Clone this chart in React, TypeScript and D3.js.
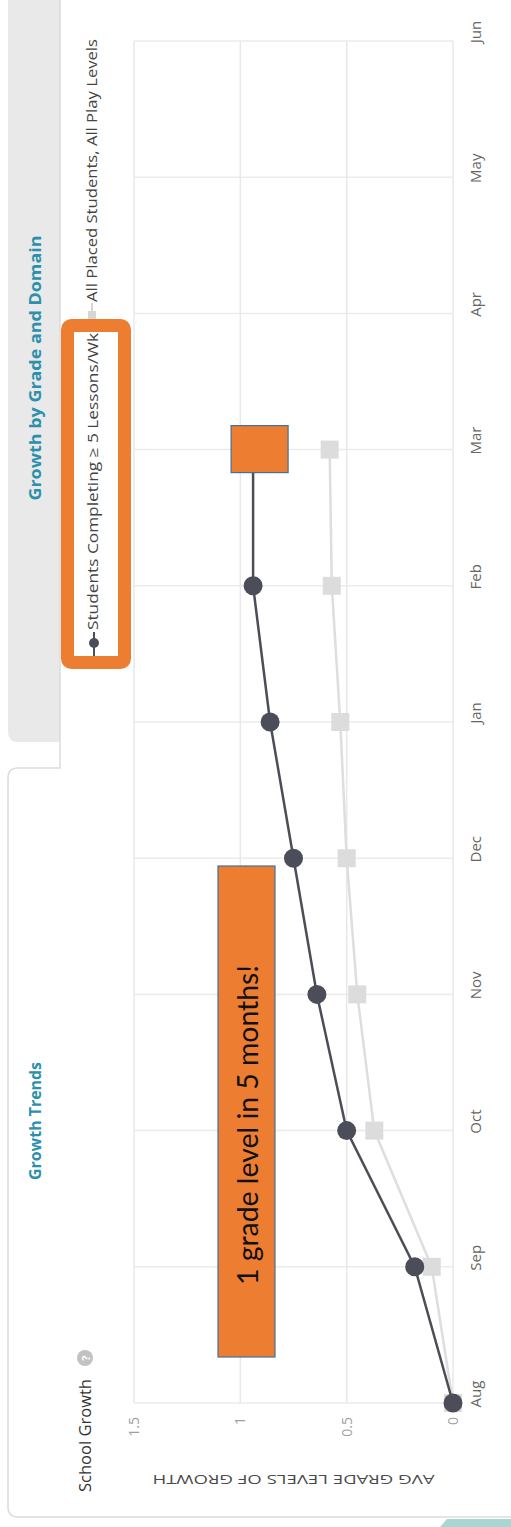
import React from 'react';
import * as d3 from 'd3';

// values (avg grade levels of growth)
const months = ['Aug', 'Sep', 'Oct', 'Nov', 'Dec', 'Jan', 'Feb', 'Mar', 'Apr', 'May', 'Jun'];
const activeStudents = [0, 0.18, 0.5, 0.64, 0.75, 0.86, 0.94, 0.94];
const allPlaced = [0, 0.1, 0.37, 0.45, 0.5, 0.53, 0.57, 0.58];
const yTicks = [0, 0.5, 1, 1.5];
const yTickLabels = ['0', '0.5', '1', '1.5'];

const activeLabel = 'Students Completing \u2265 5 Lessons/Wk';
const allLabel = 'All Placed Students, All Play Levels';

const FONT = "'Open Sans', 'Noto Sans', sans-serif";
const TEAL = '#2a90ab';
const ORANGE = '#ED7D31';

const App = () => {
  // chart drawn upright in a 1527 x 511 frame, then turned -90deg
  const x = d3.scalePoint<string>().domain(months).range([124, 1486]);
  const y = d3.scaleLinear().domain([0, 1.5]).range([453, 134]);

  const line = d3
    .line<number>()
    .x((d, i) => x(months[i]) as number)
    .y(d => y(d));

  const marX = x('Mar') as number;
  const marY = y(activeStudents[7]);

  return (
    <svg width={511} height={1527} style={{ position: 'absolute', left: 0, top: 0, background: '#fff' }}>
      <g transform="translate(0,1527) rotate(-90)">
        {/* tabs + panel */}
        <path d="M785,60 L785,18 Q785,8 795,8 L1527,8 L1527,60 Z" fill="#e9e9e9" />
        <path
          d="M1527,60 L759,60 L759,18 Q759,8 749,8 L20,8 Q10,8 10,18 L10,511"
          fill="none"
          stroke="#dcdcdc"
          strokeWidth={1.5}
        />
        <path d="M0,440 L8,447 L8,511 L0,511 Z" fill="#a9d6d3" />
        <text x={1159} y={41} textAnchor="middle" fontFamily={FONT} fontWeight={700} fontSize={16}
          fill={TEAL} textLength={265} lengthAdjust="spacingAndGlyphs">Growth by Grade and Domain</text>
        <text x={406} y={41} textAnchor="middle" fontFamily={FONT} fontWeight={700} fontSize={16}
          fill={TEAL} textLength={118} lengthAdjust="spacingAndGlyphs">Growth Trends</text>

        <text x={35} y={91} fontFamily={FONT} fontSize={16} fill="#333"
          textLength={113} lengthAdjust="spacingAndGlyphs">School Growth</text>
        <circle cx={169} cy={85} r={8} fill="#c2c2c2" />
        <text x={169} y={89.5} textAnchor="middle" fontFamily={FONT} fontWeight={700} fontSize={11} fill="#fff">?</text>

        {/* grid */}
        {months.map(m => (
          <line key={m} x1={x(m)} x2={x(m)} y1={y(1.5)} y2={y(0)} stroke="#ebebeb" strokeWidth={1.5} />
        ))}
        {yTicks.map(t => (
          <line key={t} x1={x('Aug')} x2={x('Jun')} y1={y(t)} y2={y(t)} stroke="#e8e8e8" strokeWidth={1.5} />
        ))}

        {/* axes labels */}
        {yTicks.map((t, i) => (
          <text key={t} x={110} y={y(t) + 5} textAnchor="end" fontFamily={FONT} fontSize={14} fill="#a0a0a0">
            {yTickLabels[i]}
          </text>
        ))}
        {months.map(m => (
          <text key={m} x={(x(m) as number) + 9} y={481} textAnchor="middle" fontFamily={FONT} fontSize={15} fill="#666">
            {m}
          </text>
        ))}
        <text transform={`translate(52,${(y(0) + y(1.5)) / 2}) rotate(-90)`} textAnchor="middle" fontFamily={FONT}
          fontSize={12.5} fill="#4a4a4a" textLength={282} lengthAdjust="spacingAndGlyphs">
          AVG GRADE LEVELS OF GROWTH
        </text>

        {/* all placed series */}
        <path d={line(allPlaced) || ''} fill="none" stroke="#dedede" strokeWidth={2.5} />
        {allPlaced.map((d, i) => (
          <rect key={i} x={(x(months[i]) as number) - 9} y={y(d) - 9} width={18} height={18} fill="#dcdcdc" />
        ))}

        {/* students completing >= 5 lessons series */}
        <path d={line(activeStudents) || ''} fill="none" stroke="#4b4e58" strokeWidth={2.5} />
        {activeStudents.map((d, i) => (
          <circle key={i} cx={x(months[i])} cy={y(d)} r={9.5} fill="#4b4e58" />
        ))}

        {/* legend */}
        <line x1={1200} x2={1224} y1={92} y2={92} stroke="#d6d6d6" strokeWidth={2} />
        <rect x={1208} y={88} width={8} height={8} fill="#d6d6d6" />
        <text x={1225} y={97} fontFamily={FONT} fontSize={14} fill="#444"
          textLength={263} lengthAdjust="spacingAndGlyphs">{allLabel}</text>
        <rect x={864.5} y={67.5} width={337} height={57} rx={4} fill="#fff" stroke={ORANGE} strokeWidth={13} />
        <line x1={871} x2={895} y1={94} y2={94} stroke="#4b4e58" strokeWidth={2} />
        <circle cx={884} cy={94} r={5} fill="#4b4e58" />
        <text x={897} y={98} fontFamily={FONT} fontSize={14} fill="#444"
          textLength={297} lengthAdjust="spacingAndGlyphs">{activeLabel}</text>

        {/* annotations */}
        <rect x={marX - 23} y={marY - 22} width={47} height={57} fill={ORANGE} stroke="#41719C" strokeWidth={1.2} />
        <rect x={170} y={218} width={491} height={57} fill={ORANGE} stroke="#41719C" strokeWidth={1.2} />
        <text x={402} y={258} textAnchor="middle" fontFamily="Lato, 'Open Sans', sans-serif" fontSize={29} fill="#111"
          textLength={320} lengthAdjust="spacingAndGlyphs">1 grade level in 5 months!</text>
      </g>
    </svg>
  );
};

export default App;
